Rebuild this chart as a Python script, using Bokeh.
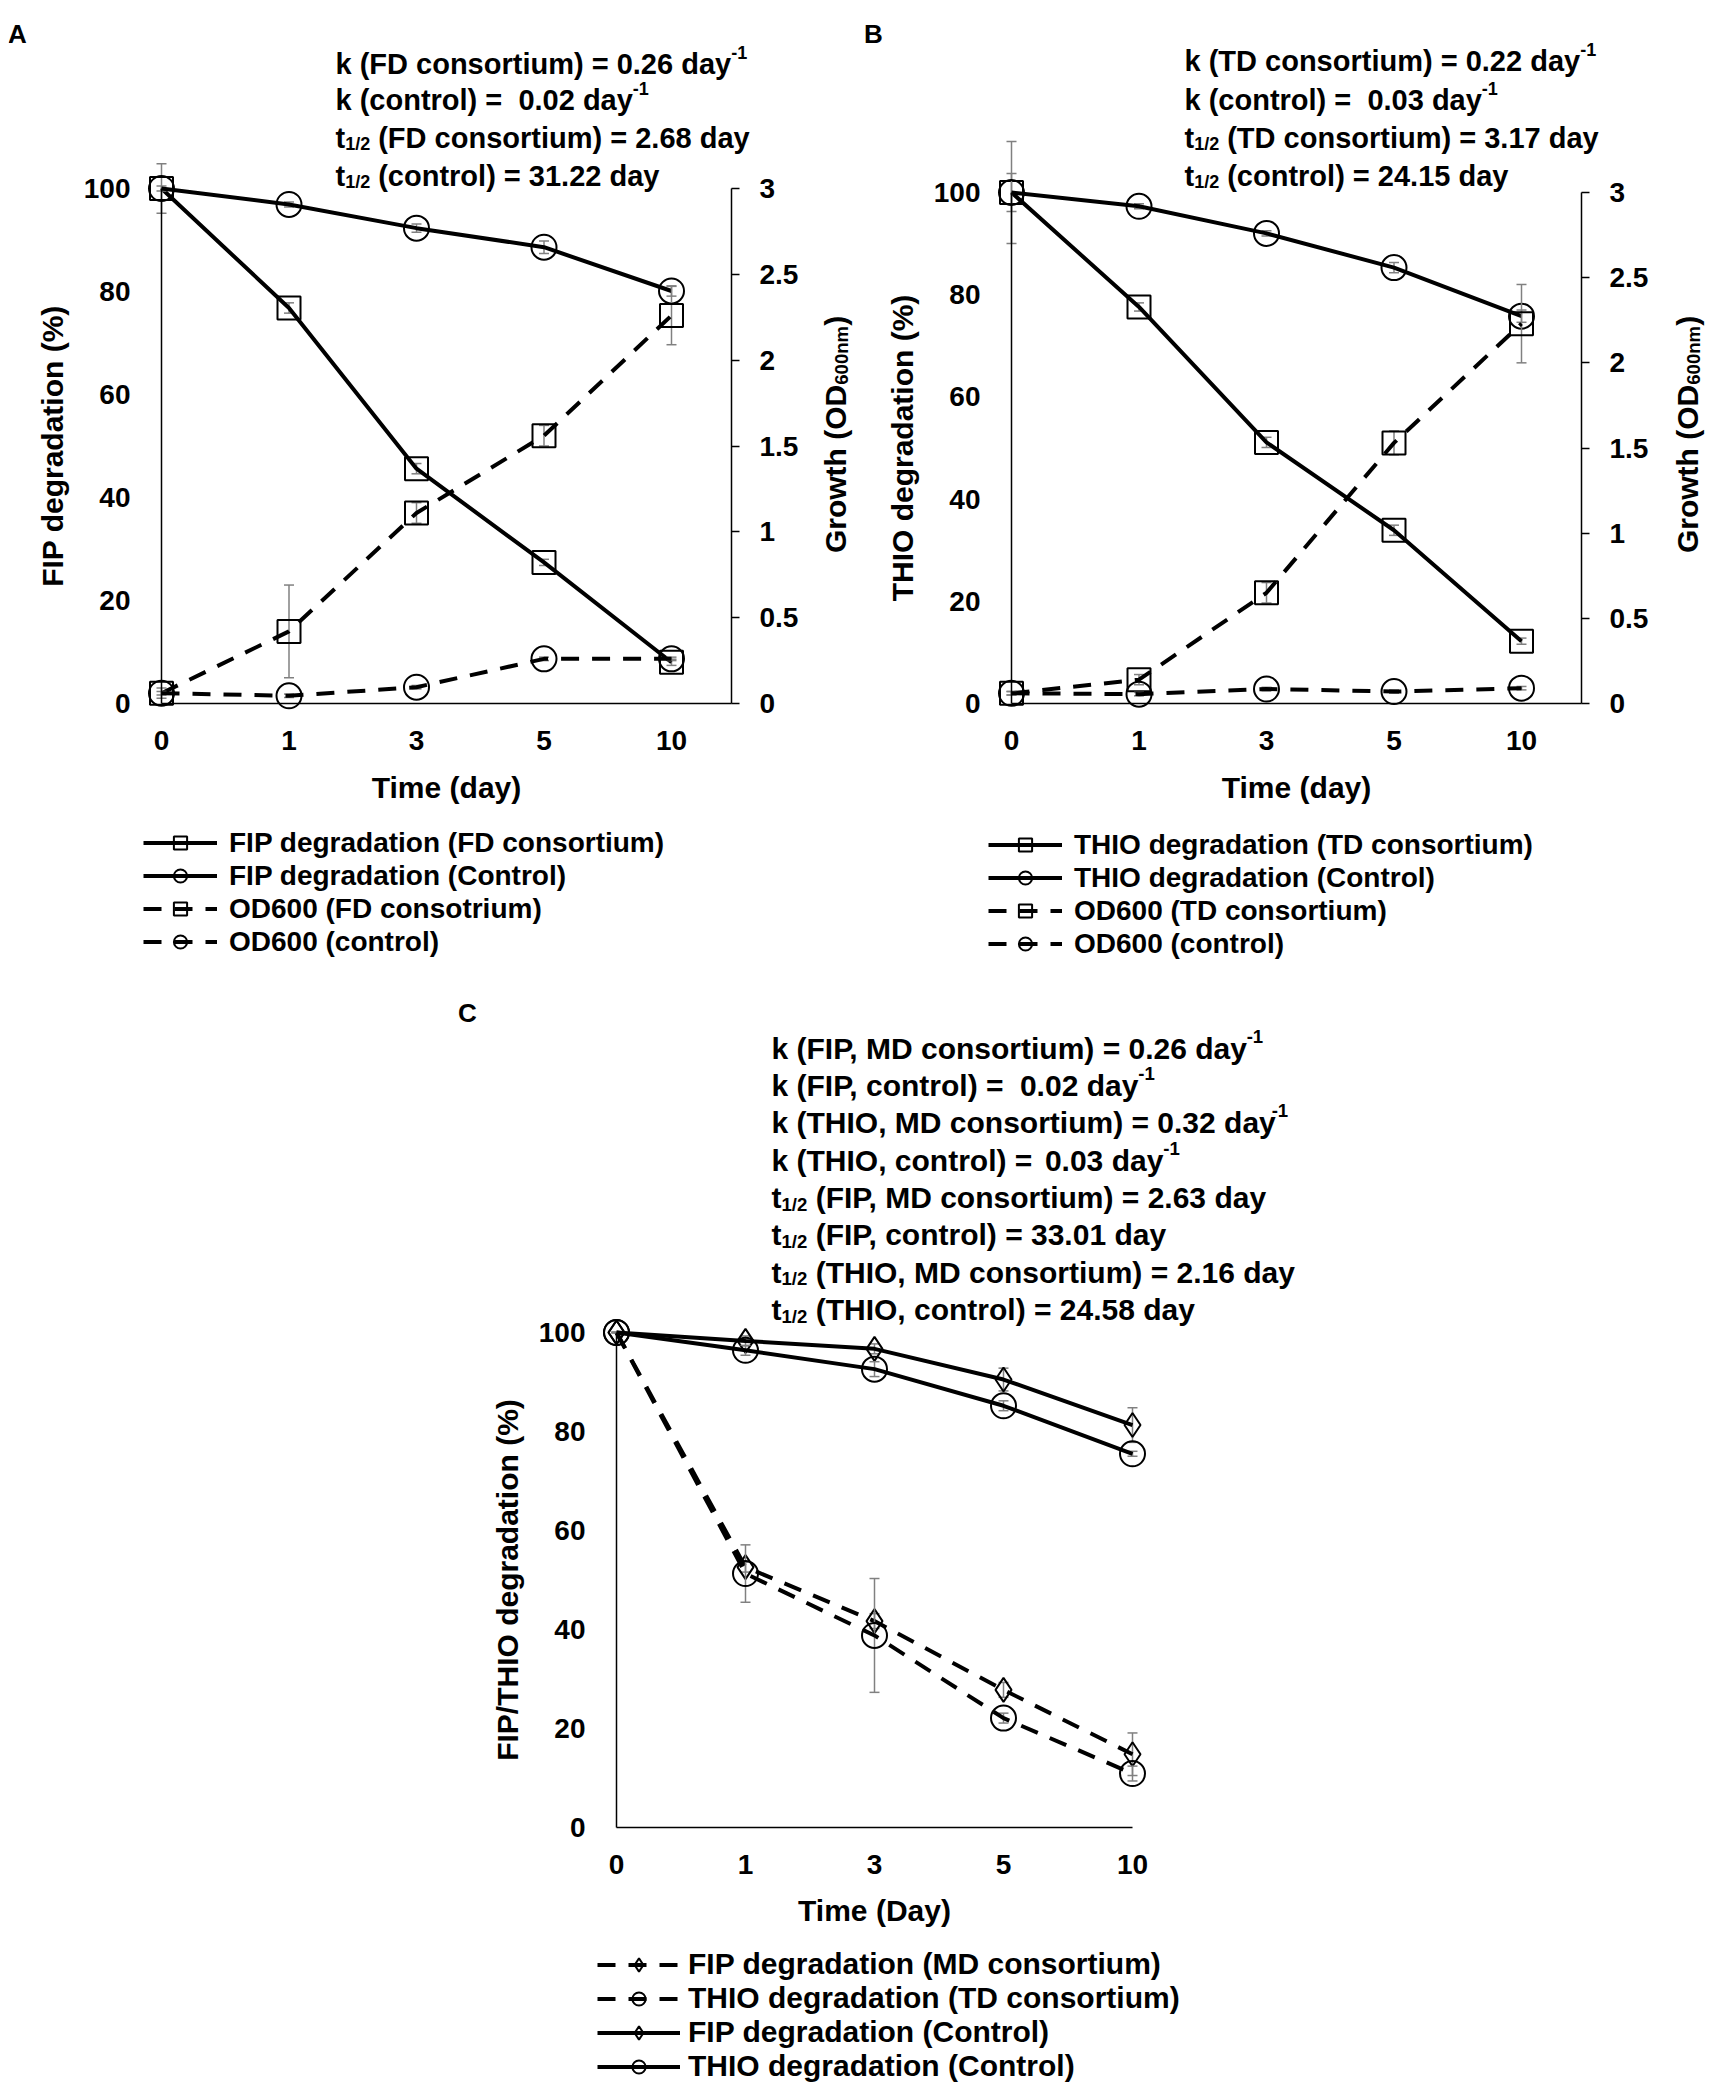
import math
from bokeh.plotting import figure
from bokeh.models import (Range1d, LinearAxis, FixedTicker, Label, Legend,
                          LegendItem, Spacer)
from bokeh.layouts import row, column
from bokeh.embed import file_html
from bokeh.resources import INLINE

FONT = "Liberation Sans"
GRAY = "#808080"

# ---------------- data ----------------
days = ["0", "1", "3", "5", "10"]
pct_ticks = [0, 20, 40, 60, 80, 100]
od_ticks = [0, 0.5, 1, 1.5, 2, 2.5, 3]
od_tick_labels = ["0", "0.5", "1", "1.5", "2", "2.5", "3"]

# Panel A
a_fip_fd = [100, 76.8, 45.6, 27.4, 8.0]
a_fip_fd_err = [4.8, 1.0, 1.0, 0.6, 0.6]
a_fip_ctrl = [100, 96.9, 92.3, 88.6, 80.1]
a_fip_ctrl_err = [0.5, 0.5, 0.8, 1.2, 1.0]
a_od_fd = [0.06, 0.42, 1.11, 1.56, 2.26]
a_od_fd_err = [0.03, 0.27, 0.06, 0.06, 0.17]
a_od_ctrl = [0.06, 0.045, 0.095, 0.26, 0.26]
a_od_ctrl_err = [0.01, 0.01, 0.01, 0.01, 0.01]

# Panel B
b_thio_td = [100, 77.6, 51.1, 33.9, 12.2]
b_thio_td_err = [10.0, 0.8, 1.0, 1.0, 0.6]
b_thio_ctrl = [100, 97.3, 92.0, 85.3, 75.8]
b_thio_ctrl_err = [3.7, 0.5, 0.5, 1.0, 1.2]
b_od_td = [0.06, 0.14, 0.65, 1.53, 2.23]
b_od_td_err = [0.01, 0.03, 0.06, 0.07, 0.23]
b_od_ctrl = [0.06, 0.055, 0.085, 0.07, 0.09]
b_od_ctrl_err = [0.01, 0.01, 0.01, 0.01, 0.01]

# Panel C
c_fip_md = [100, 52.6, 41.7, 27.8, 14.8]
c_fip_md_err = [0.0, 1.0, 1.5, 1.5, 4.3]
c_thio_td = [100, 51.3, 38.8, 22.1, 10.9]
c_thio_td_err = [0.0, 5.8, 11.5, 1.0, 1.5]
c_fip_ctrl = [100, 98.3, 96.7, 90.5, 81.3]
c_fip_ctrl_err = [0.0, 1.0, 1.0, 2.3, 3.5]
c_thio_ctrl = [100, 96.4, 92.6, 85.2, 75.5]
c_thio_ctrl_err = [0.0, 1.0, 1.5, 1.0, 0.5]

a_notes = [
    [("k (FD consortium) = 0.26 day", "n"), ("-1", "sup")],
    [("k (control) =  0.02 day", "n"), ("-1", "sup")],
    [("t", "n"), ("1/2", "sub"), (" (FD consortium) = 2.68 day", "n")],
    [("t", "n"), ("1/2", "sub"), (" (control) = 31.22 day", "n")],
]
b_notes = [
    [("k (TD consortium) = 0.22 day", "n"), ("-1", "sup")],
    [("k (control) =  0.03 day", "n"), ("-1", "sup")],
    [("t", "n"), ("1/2", "sub"), (" (TD consortium) = 3.17 day", "n")],
    [("t", "n"), ("1/2", "sub"), (" (control) = 24.15 day", "n")],
]
c_notes = [
    [("k (FIP, MD consortium) = 0.26 day", "n"), ("-1", "sup")],
    [("k (FIP, control) =  0.02 day", "n"), ("-1", "sup")],
    [("k (THIO, MD consortium) = 0.32 day", "n"), ("-1", "sup")],
    [("k (THIO, control) =  0.03 day", "n"), ("-1", "sup")],
    [("t", "n"), ("1/2", "sub"), (" (FIP, MD consortium) = 2.63 day", "n")],
    [("t", "n"), ("1/2", "sub"), (" (FIP, control) = 33.01 day", "n")],
    [("t", "n"), ("1/2", "sub"), (" (THIO, MD consortium) = 2.16 day", "n")],
    [("t", "n"), ("1/2", "sub"), (" (THIO, control) = 24.58 day", "n")],
]
growth_title = [("Growth (OD", "n"), ("600nm", "sub"), (")", "n")]

# ---------------- text metrics (Arial/Liberation Sans Bold) ----------------
HB = {' ': 278, '!': 333, '(': 333, ')': 333, ',': 140, '-': 333, '.': 278,
      '/': 278, '=': 584, '%': 889}
for ch in "0123456789":
    HB[ch] = 556
HB.update(dict(A=722, B=722, C=722, D=722, E=667, F=611, G=778, H=722, I=278,
               J=556, K=722, L=611, M=833, N=722, O=778, P=667, Q=778, R=722,
               S=667, T=611, U=722, V=667, W=944, X=667, Y=667, Z=611,
               a=556, b=611, c=556, d=611, e=556, f=333, g=611, h=611, i=278,
               j=278, k=556, l=278, m=889, n=611, o=611, p=611, q=611, r=389,
               s=556, t=333, u=611, v=556, w=778, x=556, y=556, z=500))


def tw(s, size):
    return sum(HB.get(c, 556) for c in s) * size / 1000.0


def rich_label(p, geo, segments, cx, cy, size, vertical=False):
    """cx, cy in canvas px. Horizontal: cx = start x, cy = text centre.
    Vertical (rotated 90deg): cx = text centre x, cy = start (bottom) y."""
    fl, fb = geo
    base_off = 0.36 * size
    cursor = cy if vertical else cx
    sign = -1 if vertical else 1
    for text, kind in segments:
        s = size if kind == "n" else 0.62 * size
        shift = 0.0 if kind == "n" else (-0.40 * size if kind == "sup" else 0.22 * size)
        pieces = text.split("  ")
        for k, piece in enumerate(pieces):
            if k > 0:
                cursor += sign * tw("  ", s)
            stripped = piece.lstrip(" ")
            cursor += sign * tw(piece[:len(piece) - len(stripped)], s)
            if stripped:
                if vertical:
                    sx, sy, ang = cx + base_off + shift, cursor, math.pi / 2
                else:
                    sx, sy, ang = cursor, cy + base_off + shift, 0.0
                p.add_layout(Label(x=sx - fl, y=fb - sy, x_units="screen", y_units="screen",
                                   text=stripped, angle=ang, text_font=FONT,
                                   text_font_style="bold", text_font_size=f"{s:.1f}px",
                                   text_color="black", text_align="left",
                                   text_baseline="alphabetic"))
                cursor += sign * tw(stripped, s)


def style_axis(ax, tick_size="28px", title_size="30px"):
    ax.axis_line_color = "black"
    ax.axis_line_width = 1.5
    ax.major_tick_line_color = None
    ax.minor_tick_line_color = None
    ax.major_label_text_font = FONT
    ax.major_label_text_font_style = "bold"
    ax.major_label_text_font_size = tick_size
    ax.major_label_text_color = "black"
    ax.axis_label_text_font = FONT
    ax.axis_label_text_font_style = "bold"
    ax.axis_label_text_font_size = title_size
    ax.axis_label_text_color = "black"


def make_panel(width, height, ax_left, x_ppu, x_end, ax_top, ax_bottom,
               xtitle, ytitle, right_axis=False, xt_standoff=18):
    # the frame covers the whole canvas; axes are drawn at fixed data locations
    y_ppu = (ax_bottom - ax_top) / 100.0
    p = figure(width=width, height=height, output_backend="svg", toolbar_location=None,
               x_range=Range1d(-ax_left / x_ppu, (width - ax_left) / x_ppu),
               y_range=Range1d(-(height - ax_bottom) / y_ppu, 100 + ax_top / y_ppu),
               min_border_left=0, min_border_right=0,
               min_border_top=0, min_border_bottom=0,
               frame_width=width, frame_height=height)
    p.grid.visible = False
    p.outline_line_color = None
    p.background_fill_color = "white"
    p.border_fill_color = "white"

    xa = p.xaxis[0]
    style_axis(xa)
    xa.ticker = FixedTicker(ticks=list(range(len(days))))
    xa.major_label_overrides = {i: d for i, d in enumerate(days)}
    xa.fixed_location = 0
    xa.bounds = (0, x_end)
    xa.major_label_standoff = 21
    xa.axis_label = xtitle
    xa.axis_label_standoff = xt_standoff

    ya = p.yaxis[0]
    style_axis(ya)
    ya.ticker = FixedTicker(ticks=pct_ticks)
    ya.fixed_location = 0
    ya.bounds = (0, 100)
    ya.major_label_standoff = 25
    ya.axis_label = ytitle
    ya.axis_label_standoff = 12

    if right_axis:
        lo = p.y_range.start * 0.03
        hi = p.y_range.end * 0.03
        p.extra_y_ranges = {"od": Range1d(lo, hi)}
        ra = LinearAxis(y_range_name="od", fixed_location=x_end, bounds=(0, 3),
                        ticker=FixedTicker(ticks=od_ticks),
                        major_label_overrides={t: l for t, l in zip(od_ticks, od_tick_labels)})
        style_axis(ra)
        ra.major_tick_line_color = "black"
        ra.major_tick_line_width = 1.5
        ra.major_tick_out = 8
        ra.major_tick_in = 0
        ra.major_label_standoff = 20
        p.add_layout(ra, "right")
    return p, (0, height)


def series(p, ys, errs, marker, size, dash, rng="default"):
    xs = list(range(len(days)))
    lo = [y - e for y, e in zip(ys, errs)]
    hi = [y + e for y, e in zip(ys, errs)]
    p.segment(xs, lo, xs, hi, line_color=GRAY, line_width=1.5, y_range_name=rng)
    p.scatter(xs, lo, marker="dash", size=10, line_color=GRAY, line_width=1.5, y_range_name=rng)
    p.scatter(xs, hi, marker="dash", size=10, line_color=GRAY, line_width=1.5, y_range_name=rng)
    lr = p.line(xs, ys, line_color="black", line_width=4, line_dash=dash, y_range_name=rng)
    sr = p.scatter(xs, ys, marker=marker, size=size, line_color="black", line_width=2,
                   fill_alpha=0, y_range_name=rng)
    return [lr, sr]


def add_legend(p, geo, items, left, top, font_size, glyph_w, standoff, item_h):
    fl, fb = geo
    bottom = top + len(items) * item_h
    leg = Legend(items=[LegendItem(label=l, renderers=r) for l, r in items],
                 location=(left - fl, fb - bottom), orientation="vertical",
                 padding=0, margin=0, spacing=0, label_standoff=standoff,
                 glyph_width=glyph_w, glyph_height=item_h, label_height=item_h,
                 border_line_color=None, background_fill_alpha=0,
                 label_text_font=FONT, label_text_font_style="bold",
                 label_text_font_size=font_size, label_text_color="black")
    p.add_layout(leg)


def panel_letter(p, geo, letter, cx, cy):
    # cx = centre x, cy = cap centre y (canvas px)
    fl, fb = geo
    p.add_layout(Label(x=cx - fl, y=fb - (cy + 0.36 * 26), x_units="screen", y_units="screen",
                       text=letter, text_font=FONT, text_font_style="bold",
                       text_font_size="26px", text_color="black",
                       text_align="center", text_baseline="alphabetic"))


DASH = "18 13"
tot = sum(tw(t, 30 if k == "n" else 18.6) for t, k in growth_title)

# ---------------- Panel A ----------------
pa, ga = make_panel(856, 962, 153, 127.5, 4.47, 180, 695,
                    "Time (day)", "FIP degradation (%)", right_axis=True)
r_a1 = series(pa, a_fip_fd, a_fip_fd_err, "square", 23, "solid")
r_a2 = series(pa, a_fip_ctrl, a_fip_ctrl_err, "circle", 25, "solid")
r_a3 = series(pa, a_od_fd, a_od_fd_err, "square", 23, DASH, "od")
r_a4 = series(pa, a_od_ctrl, a_od_ctrl_err, "circle", 25, DASH, "od")
add_legend(pa, ga, [("FIP degradation (FD consortium)", r_a1),
                    ("FIP degradation (Control)", r_a2),
                    ("OD600 (FD consotrium)", r_a3),
                    ("OD600 (control)", r_a4)],
           135, 818, "28px", 74, 12, 33)
for i, line in enumerate(a_notes):
    rich_label(pa, ga, line, 327, [45, 81, 119, 157][i], 29)
rich_label(pa, ga, growth_title, 816, 426 + tot / 2, 30, vertical=True)
panel_letter(pa, ga, "A", 9, 16)

# ---------------- Panel B ----------------
pb, gb = make_panel(841, 962, 147, 127.5, 4.47, 184, 695,
                    "Time (day)", "THIO degradation (%)", right_axis=True)
r_b1 = series(pb, b_thio_td, b_thio_td_err, "square", 23, "solid")
r_b2 = series(pb, b_thio_ctrl, b_thio_ctrl_err, "circle", 25, "solid")
r_b3 = series(pb, b_od_td, b_od_td_err, "square", 23, DASH, "od")
r_b4 = series(pb, b_od_ctrl, b_od_ctrl_err, "circle", 25, DASH, "od")
add_legend(pb, gb, [("THIO degradation (TD consortium)", r_b1),
                    ("THIO degradation (Control)", r_b2),
                    ("OD600 (TD consortium)", r_b3),
                    ("OD600 (control)", r_b4)],
           124, 820, "28px", 74, 12, 33)
for i, line in enumerate(b_notes):
    rich_label(pb, gb, line, 320, [42, 81, 119, 157][i], 29)
rich_label(pb, gb, growth_title, 812, 426 + tot / 2, 30, vertical=True)
panel_letter(pb, gb, "B", 9, 16)

# ---------------- Panel C ----------------
pc, gc = make_panel(900, 1113, 176, 129, 4.0, 362, 857,
                    "Time (Day)", "FIP/THIO degradation (%)", xt_standoff=17)
r_c1 = series(pc, c_fip_md, c_fip_md_err, "diamond", 24, DASH)
r_c2 = series(pc, c_thio_td, c_thio_td_err, "circle", 25, DASH)
r_c3 = series(pc, c_fip_ctrl, c_fip_ctrl_err, "diamond", 24, "solid")
r_c4 = series(pc, c_thio_ctrl, c_thio_ctrl_err, "circle", 25, "solid")
add_legend(pc, gc, [("FIP degradation (MD consortium)", r_c1),
                    ("THIO degradation (TD consortium)", r_c2),
                    ("FIP degradation (Control)", r_c3),
                    ("THIO degradation (Control)", r_c4)],
           157, 981, "30px", 83, 8, 33)
for i, line in enumerate(c_notes):
    rich_label(pc, gc, line, 331, 67 + i * 37.3, 30)
panel_letter(pc, gc, "C", 27, 33)

layout = row(Spacer(width=8, height=8),
             column(Spacer(width=8, height=8),
                    row(pa, pb),
                    row(Spacer(width=432, height=1113), pc)))
open("out.html", "w").write(file_html(layout, INLINE))
